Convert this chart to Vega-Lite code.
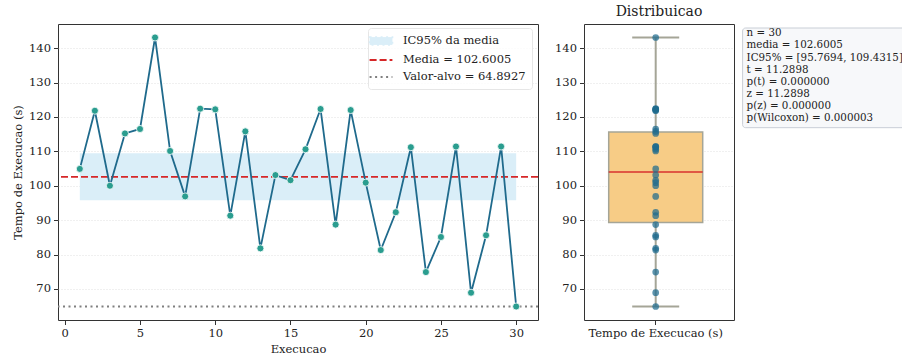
{
  "$schema": "https://vega.github.io/schema/vega-lite/v6.json",
  "padding": {"left": 12, "top": 4, "right": 0, "bottom": 0},
  "config": {
    "font": "DejaVu Serif",
    "view": {"stroke": "#333333", "strokeWidth": 1},
    "axis": {"labelFont": "DejaVu Serif", "labelFontSize": 11.5, "labelColor": "#222222", "titleFont": "DejaVu Serif", "titleFontSize": 11.5, "titleFontWeight": "normal", "titleColor": "#222222", "tickColor": "#333333", "tickSize": 4.5, "labelPadding": 3, "domain": false, "grid": false},
    "title": {"font": "DejaVu Serif", "fontSize": 14, "fontWeight": "normal", "color": "#222222"}
  },
  "datasets": {
    "runs": [
      {"run": 1, "t": 104.9, "var": "Tempo de Execucao (s)"},
      {"run": 2, "t": 121.8, "var": "Tempo de Execucao (s)"},
      {"run": 3, "t": 100.0, "var": "Tempo de Execucao (s)"},
      {"run": 4, "t": 115.2, "var": "Tempo de Execucao (s)"},
      {"run": 5, "t": 116.5, "var": "Tempo de Execucao (s)"},
      {"run": 6, "t": 143.1, "var": "Tempo de Execucao (s)"},
      {"run": 7, "t": 110.1, "var": "Tempo de Execucao (s)"},
      {"run": 8, "t": 96.9, "var": "Tempo de Execucao (s)"},
      {"run": 9, "t": 122.4, "var": "Tempo de Execucao (s)"},
      {"run": 10, "t": 122.2, "var": "Tempo de Execucao (s)"},
      {"run": 11, "t": 91.3, "var": "Tempo de Execucao (s)"},
      {"run": 12, "t": 115.8, "var": "Tempo de Execucao (s)"},
      {"run": 13, "t": 81.8, "var": "Tempo de Execucao (s)"},
      {"run": 14, "t": 103.1, "var": "Tempo de Execucao (s)"},
      {"run": 15, "t": 101.6, "var": "Tempo de Execucao (s)"},
      {"run": 16, "t": 110.6, "var": "Tempo de Execucao (s)"},
      {"run": 17, "t": 122.3, "var": "Tempo de Execucao (s)"},
      {"run": 18, "t": 88.7, "var": "Tempo de Execucao (s)"},
      {"run": 19, "t": 122.0, "var": "Tempo de Execucao (s)"},
      {"run": 20, "t": 100.9, "var": "Tempo de Execucao (s)"},
      {"run": 21, "t": 81.3, "var": "Tempo de Execucao (s)"},
      {"run": 22, "t": 92.3, "var": "Tempo de Execucao (s)"},
      {"run": 23, "t": 111.2, "var": "Tempo de Execucao (s)"},
      {"run": 24, "t": 74.9, "var": "Tempo de Execucao (s)"},
      {"run": 25, "t": 85.1, "var": "Tempo de Execucao (s)"},
      {"run": 26, "t": 111.4, "var": "Tempo de Execucao (s)"},
      {"run": 27, "t": 68.9, "var": "Tempo de Execucao (s)"},
      {"run": 28, "t": 85.6, "var": "Tempo de Execucao (s)"},
      {"run": 29, "t": 111.4, "var": "Tempo de Execucao (s)"},
      {"run": 30, "t": 64.89, "var": "Tempo de Execucao (s)"}
    ],
    "stats": [
      {"line": 0, "s": "n = 30"},
      {"line": 1, "s": "media = 102.6005"},
      {"line": 2, "s": "IC95% = [95.7694, 109.4315]"},
      {"line": 3, "s": "t = 11.2898"},
      {"line": 4, "s": "p(t) = 0.000000"},
      {"line": 5, "s": "z = 11.2898"},
      {"line": 6, "s": "p(z) = 0.000000"},
      {"line": 7, "s": "p(Wilcoxon) = 0.000003"}
    ]
  },
  "bounds": "flush",
  "spacing": 46,
  "hconcat": [
    {
      "width": 480,
      "height": 296,
      "layer": [
        {
          "data": {"values": [{"x0": 1, "x1": 30, "lo": 95.7694, "hi": 109.4315, "serie": "IC95% da media"}]},
          "mark": {"type": "rect"},
          "encoding": {
            "x": {"field": "x0", "type": "quantitative", "scale": {"domain": [-0.45, 31.45], "nice": false, "zero": false}, "axis": {"values": [0, 5, 10, 15, 20, 25, 30], "format": "d", "title": "Execucao", "titlePadding": 4}},
            "x2": {"field": "x1"},
            "y": {"field": "lo", "type": "quantitative", "scale": {"domain": [60.97, 147.02], "nice": false, "zero": false}, "axis": {"values": [70, 80, 90, 100, 110, 120, 130, 140], "title": "Tempo de Execucao (s)", "titlePadding": 5, "grid": true, "gridColor": "#d9d9d9", "gridDash": [1, 2], "gridWidth": 0.8}},
            "y2": {"field": "hi"},
            "color": {
              "field": "serie", "type": "nominal",
              "scale": {"domain": ["IC95% da media", "Media = 102.6005", "Valor-alvo = 64.8927"], "range": ["#daeef8", "#d62728", "#7f7f7f"]},
              "legend": {
                "title": null, "orient": "none", "legendX": 310, "legendY": 4, "padding": 6,
                "labelFont": "DejaVu Serif", "labelFontSize": 11.5, "labelColor": "#222222", "labelOffset": 15,
                "symbolSize": 144, "rowPadding": 4,
                "fillColor": "rgba(255,255,255,0.8)", "strokeColor": "#e6e6e6", "cornerRadius": 3,
                "encode": {
                  "symbols": {"update": {
                    "shape": {"signal": "datum.value === 'IC95% da media' ? 'M-1.9,-0.65H1.9V0.65H-1.9Z' : 'M-1.9,0H1.9'"},
                    "fill": {"signal": "datum.value === 'IC95% da media' ? '#daeef8' : 'transparent'"},
                    "stroke": {"signal": "datum.value === 'IC95% da media' ? 'transparent' : (datum.value === 'Media = 102.6005' ? '#d62728' : '#7f7f7f')"},
                    "strokeDash": {"signal": "datum.value === 'Media = 102.6005' ? [7, 3] : [2, 3.5]"},
                    "strokeWidth": {"value": 1.8},
                    "opacity": {"value": 1}
                  }}
                }
              }
            }
          }
        },
        {
          "data": {"values": [{"y": 102.6005, "serie": "Media = 102.6005"}]},
          "mark": {"type": "rule", "strokeDash": [7, 3], "strokeWidth": 1.8},
          "encoding": {
            "y": {"field": "y", "type": "quantitative"},
            "color": {"field": "serie", "type": "nominal"}
          }
        },
        {
          "data": {"values": [{"y": 64.8927, "serie": "Valor-alvo = 64.8927"}]},
          "mark": {"type": "rule", "strokeDash": [2, 3.5], "strokeWidth": 1.8},
          "encoding": {
            "y": {"field": "y", "type": "quantitative"},
            "color": {"field": "serie", "type": "nominal"}
          }
        },
        {
          "data": {"name": "runs"},
          "mark": {"type": "line", "color": "#1f6a8c", "strokeWidth": 1.8},
          "encoding": {
            "x": {"field": "run", "type": "quantitative"},
            "y": {"field": "t", "type": "quantitative"}
          }
        },
        {
          "data": {"name": "runs"},
          "mark": {"type": "point", "filled": true, "fill": "#2a9d8f", "stroke": "#ffffff", "strokeWidth": 0.8, "size": 50, "opacity": 1},
          "encoding": {
            "x": {"field": "run", "type": "quantitative"},
            "y": {"field": "t", "type": "quantitative"}
          }
        }
      ]
    },
    {
      "width": 150,
      "height": 296,
      "title": {"text": "Distribuicao", "offset": 5},
      "data": {"name": "runs"},
      "layer": [
        {
          "mark": {
            "type": "boxplot", "extent": "min-max", "size": 94,
            "box": {"color": "#f7cc86", "fill": "#f7cc86", "stroke": "#a5a597", "strokeWidth": 1.5},
            "median": {"color": "#d62728", "thickness": 2, "size": 94},
            "rule": {"color": "#a5a597", "strokeWidth": 2},
            "ticks": {"color": "#a5a597", "size": 47, "thickness": 2}
          },
          "encoding": {
            "x": {"field": "var", "type": "nominal", "scale": {"paddingInner": 0, "paddingOuter": 0.5, "align": 0.456}, "axis": {"title": null, "labelAngle": 0}},
            "y": {"field": "t", "type": "quantitative", "scale": {"domain": [60.97, 147.02], "nice": false, "zero": false}, "axis": {"values": [70, 80, 90, 100, 110, 120, 130, 140], "title": null, "grid": true, "gridColor": "#d9d9d9", "gridDash": [1, 2], "gridWidth": 0.8}}
          }
        },
        {
          "mark": {"type": "point", "filled": true, "color": "#1f6b8e", "opacity": 0.72, "size": 45},
          "encoding": {
            "x": {"field": "var", "type": "nominal"},
            "y": {"field": "t", "type": "quantitative"}
          }
        }
      ]
    },
    {
      "width": 170,
      "height": 296,
      "view": {"stroke": null},
      "layer": [
        {
          "data": {"values": [{"x0": -0.22, "x1": 1, "y0": -0.44, "y1": 7.77}]},
          "mark": {"type": "rect", "fill": "#f7f8fa", "stroke": "#c9ced6", "strokeWidth": 1, "cornerRadius": 3},
          "encoding": {
            "x": {"field": "x0", "type": "quantitative", "scale": {"domain": [0, 1], "nice": false, "zero": false}, "axis": null},
            "x2": {"field": "x1"},
            "y": {"field": "y0", "type": "quantitative", "scale": {"domain": [-0.77, 23.61], "reverse": true, "nice": false, "zero": false}, "axis": null},
            "y2": {"field": "y1"}
          }
        },
        {
          "data": {"name": "stats"},
          "mark": {"type": "text", "align": "left", "baseline": "middle", "dx": 4, "fontSize": 10.3, "color": "#222222", "font": "DejaVu Serif"},
          "encoding": {
            "x": {"datum": -0.22, "type": "quantitative"},
            "y": {"field": "line", "type": "quantitative"},
            "text": {"field": "s", "type": "nominal"}
          }
        }
      ]
    }
  ]
}
